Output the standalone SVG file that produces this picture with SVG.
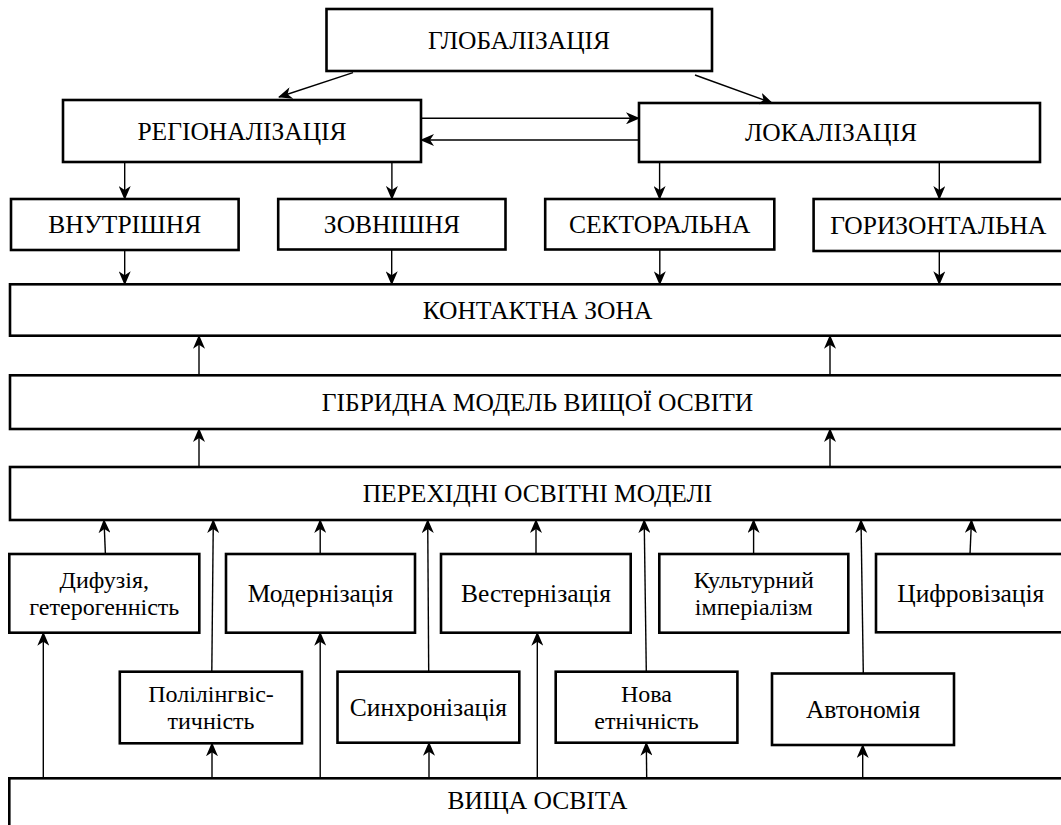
<svg xmlns="http://www.w3.org/2000/svg" width="1061" height="825" viewBox="0 0 1061 825">
<defs>
<marker id="ah" markerUnits="userSpaceOnUse" markerWidth="14" markerHeight="12" viewBox="0 0 14 12" refX="13" refY="6" orient="auto">
<path d="M0,0 L14,6 L0,12 L4,6 z" fill="#000"/>
</marker>
<style>
.b{fill:#fff;stroke:#000;stroke-width:2.6}
.t{font-family:"Liberation Serif","Times New Roman",serif;font-size:25.5px;fill:#000;text-anchor:middle}
.t2{font-size:24px}
.c line{stroke:#000;stroke-width:1.4;marker-end:url(#ah)}
</style>
</defs>
<rect width="1061" height="825" fill="#fff"/>
<g id="n-glob"><rect class="b" x="326.5" y="9" width="385.5" height="62"/><text class="t" x="519" y="48.5">ГЛОБАЛІЗАЦІЯ</text></g>
<g id="n-reg"><rect class="b" x="63" y="100" width="358" height="62"/><text class="t" x="242" y="139.5">РЕГІОНАЛІЗАЦІЯ</text></g>
<g id="n-lok"><rect class="b" x="639" y="103" width="401" height="59"/><text class="t" x="831" y="141">ЛОКАЛІЗАЦІЯ</text></g>
<g id="n-vnut"><rect class="b" x="11" y="199" width="227.6" height="51"/><text class="t" x="124.8" y="233">ВНУТРІШНЯ</text></g>
<g id="n-zovn"><rect class="b" x="278.2" y="199" width="227.3" height="50.5"/><text class="t" x="392" y="233">ЗОВНІШНЯ</text></g>
<g id="n-sekt"><rect class="b" x="545.2" y="199" width="229.1" height="50.5"/><text class="t" x="659.7" y="233">СЕКТОРАЛЬНА</text></g>
<g id="n-hor"><rect class="b" x="813.6" y="199" width="260" height="52"/><text class="t" x="938.3" y="233.5">ГОРИЗОНТАЛЬНА</text></g>
<g id="n-kont"><rect class="b" x="10" y="284.3" width="1070" height="51.4"/><text class="t" x="537.5" y="318.5">КОНТАКТНА ЗОНА</text></g>
<g id="n-hibr"><rect class="b" x="10" y="375.3" width="1070" height="53.7"/><text class="t" x="537.5" y="410.5">ГІБРИДНА МОДЕЛЬ ВИЩОЇ ОСВІТИ</text></g>
<g id="n-per"><rect class="b" x="10" y="467" width="1070" height="53"/><text class="t" x="537.5" y="502">ПЕРЕХІДНІ ОСВІТНІ МОДЕЛІ</text></g>
<g id="n-dyf"><rect class="b" x="9.3" y="554" width="190" height="78.7"/><text class="t t2" x="104.3" y="587.8">Дифузія,</text><text class="t t2" x="104.3" y="614.8">гетерогенність</text></g>
<g id="n-mod"><rect class="b" x="226" y="554" width="189" height="78.7"/><text class="t" x="320.5" y="601.8">Модернізація</text></g>
<g id="n-vest"><rect class="b" x="441" y="554" width="189.7" height="78.7"/><text class="t" x="536" y="601.8">Вестернізація</text></g>
<g id="n-kult"><rect class="b" x="659.3" y="554" width="189" height="78.7"/><text class="t t2" x="753.8" y="587.8">Культурний</text><text class="t t2" x="753.8" y="614.8">імперіалізм</text></g>
<g id="n-tsyf"><rect class="b" x="876" y="554" width="200" height="78.3"/><text class="t" x="970.8" y="601.8">Цифровізація</text></g>
<g id="n-poli"><rect class="b" x="119.8" y="671.7" width="182.2" height="71.6"/><text class="t t2" x="211" y="702">Полілінгвіс-</text><text class="t t2" x="211" y="729">тичність</text></g>
<g id="n-synh"><rect class="b" x="337.5" y="671.7" width="181.8" height="71"/><text class="t" x="428.4" y="715.8">Синхронізація</text></g>
<g id="n-nova"><rect class="b" x="555.7" y="671.7" width="181.7" height="71"/><text class="t t2" x="646.5" y="702">Нова</text><text class="t t2" x="646.5" y="729">етнічність</text></g>
<g id="n-avt"><rect class="b" x="772" y="673.5" width="182" height="71.5"/><text class="t" x="863" y="717.5">Автономія</text></g>
<g id="n-vyshcha"><rect class="b" x="9.3" y="778.3" width="1070" height="60"/><text class="t" x="537.5" y="808.5">ВИЩА ОСВІТА</text></g>
<g id="connectors" class="c">
<line x1="353" y1="72.7" x2="279" y2="97"/>
<line x1="695" y1="75" x2="772" y2="103"/>
<line x1="421" y1="118.3" x2="639" y2="118.3"/>
<line x1="639" y1="140" x2="421" y2="140"/>
<line x1="124.7" y1="162" x2="124.7" y2="199"/>
<line x1="391.9" y1="162" x2="391.9" y2="199"/>
<line x1="659.6" y1="162" x2="659.6" y2="199"/>
<line x1="939.3" y1="162" x2="939.3" y2="199"/>
<line x1="124.7" y1="250" x2="124.7" y2="284.3"/>
<line x1="391.7" y1="249.5" x2="391.7" y2="284.3"/>
<line x1="659.8" y1="249.5" x2="659.8" y2="284.3"/>
<line x1="939.3" y1="251" x2="939.3" y2="284.3"/>
<line x1="199" y1="375.3" x2="199" y2="335.7"/>
<line x1="830" y1="375.3" x2="830" y2="335.7"/>
<line x1="199" y1="467" x2="199" y2="429"/>
<line x1="830" y1="467" x2="830" y2="429"/>
<line x1="105.4" y1="554" x2="104" y2="520"/>
<line x1="211.8" y1="671.7" x2="213.3" y2="520"/>
<line x1="320.2" y1="554" x2="320.2" y2="520"/>
<line x1="428.7" y1="671.7" x2="427.7" y2="520"/>
<line x1="536" y1="554" x2="536" y2="520"/>
<line x1="646.3" y1="671.7" x2="644.2" y2="520"/>
<line x1="753.6" y1="554" x2="753.6" y2="520"/>
<line x1="863.3" y1="673.5" x2="861" y2="520"/>
<line x1="970" y1="554" x2="971.5" y2="520"/>
<line x1="43.3" y1="778.3" x2="43.3" y2="632.7"/>
<line x1="212" y1="778.3" x2="212" y2="743.3"/>
<line x1="320.2" y1="778.3" x2="320.2" y2="632.7"/>
<line x1="429" y1="778.3" x2="429" y2="742.7"/>
<line x1="537.3" y1="778.3" x2="537.3" y2="632.7"/>
<line x1="646.7" y1="778.3" x2="646.3" y2="742.7"/>
<line x1="862.7" y1="778.3" x2="862.7" y2="745"/>
</g>
</svg>
